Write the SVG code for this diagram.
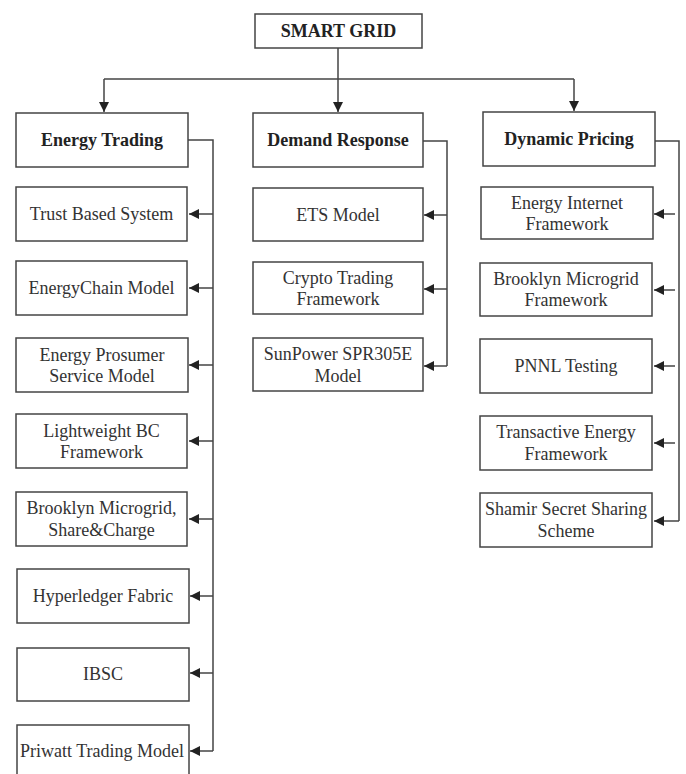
<svg xmlns="http://www.w3.org/2000/svg" width="686" height="774" viewBox="0 0 686 774">
  <style>
    .box { fill: #ffffff; stroke: #444444; stroke-width: 1.5; }
    .lbl { font-family: "Liberation Serif", "Times New Roman", serif; font-size: 18px; fill: #333333; text-anchor: middle; }
    .hdr { font-family: "Liberation Serif", "Times New Roman", serif; font-size: 18px; font-weight: bold; fill: #222222; text-anchor: middle; }
    .wire { fill: none; stroke: #444444; stroke-width: 1.5; }
  </style>
  <defs>
    <marker id="arrow" markerUnits="userSpaceOnUse" markerWidth="10" markerHeight="10" refX="10" refY="5" orient="auto">
      <path d="M0,0 L10,5 L0,10 Z" fill="#222222"/>
    </marker>
  </defs>
  <rect width="686" height="774" fill="#ffffff"/>

  <!-- connectors -->
  <g id="connectors">
    <!-- root to categories -->
    <path class="wire" d="M338,48 V79"/>
    <path class="wire" d="M104,79 H574"/>
    <path class="wire" d="M104,79 V112" marker-end="url(#arrow)"/>
    <path class="wire" d="M338,79 V112" marker-end="url(#arrow)"/>
    <path class="wire" d="M574,79 V111" marker-end="url(#arrow)"/>

    <!-- Energy Trading bus -->
    <path class="wire" d="M188,140 H213 V751"/>
    <path class="wire" d="M213,214 H189" marker-end="url(#arrow)"/>
    <path class="wire" d="M213,288 H189" marker-end="url(#arrow)"/>
    <path class="wire" d="M213,365 H189" marker-end="url(#arrow)"/>
    <path class="wire" d="M213,441 H189" marker-end="url(#arrow)"/>
    <path class="wire" d="M213,519 H189" marker-end="url(#arrow)"/>
    <path class="wire" d="M213,596 H190" marker-end="url(#arrow)"/>
    <path class="wire" d="M213,673 H190" marker-end="url(#arrow)"/>
    <path class="wire" d="M213,751 H190" marker-end="url(#arrow)"/>

    <!-- Demand Response bus -->
    <path class="wire" d="M423,141 H447 V366"/>
    <path class="wire" d="M447,215 H424" marker-end="url(#arrow)"/>
    <path class="wire" d="M447,289 H424" marker-end="url(#arrow)"/>
    <path class="wire" d="M447,366 H424" marker-end="url(#arrow)"/>

    <!-- Dynamic Pricing bus -->
    <path class="wire" d="M655,141 H679 V521"/>
    <path class="wire" d="M675,214 H654" marker-end="url(#arrow)"/>
    <path class="wire" d="M675,290 H654" marker-end="url(#arrow)"/>
    <path class="wire" d="M675,366 H654" marker-end="url(#arrow)"/>
    <path class="wire" d="M675,443 H654" marker-end="url(#arrow)"/>
    <path class="wire" d="M679,521 H654" marker-end="url(#arrow)"/>
  </g>

  <!-- root -->
  <g id="smart-grid">
    <rect class="box" x="255" y="14" width="167" height="34"/>
    <text class="hdr" x="338.5" y="37">SMART GRID</text>
  </g>

  <!-- category headers -->
  <g id="energy-trading">
    <rect class="box" x="16" y="113" width="172" height="54"/>
    <text class="hdr" x="102" y="146">Energy Trading</text>
  </g>
  <g id="demand-response">
    <rect class="box" x="253" y="113" width="170" height="54"/>
    <text class="hdr" x="338" y="146">Demand Response</text>
  </g>
  <g id="dynamic-pricing">
    <rect class="box" x="483" y="112" width="172" height="54"/>
    <text class="hdr" x="569" y="145">Dynamic Pricing</text>
  </g>

  <!-- Energy Trading items -->
  <g id="trust-based-system">
    <rect class="box" x="16" y="187" width="171" height="54"/>
    <text class="lbl" x="101.5" y="220">Trust Based System</text>
  </g>
  <g id="energychain-model">
    <rect class="box" x="16" y="261" width="171" height="54"/>
    <text class="lbl" x="101.5" y="294">EnergyChain Model</text>
  </g>
  <g id="energy-prosumer">
    <rect class="box" x="16" y="338" width="172" height="54"/>
    <text class="lbl" x="102" y="361">Energy Prosumer</text>
    <text class="lbl" x="102" y="382">Service Model</text>
  </g>
  <g id="lightweight-bc">
    <rect class="box" x="16" y="414" width="171" height="54"/>
    <text class="lbl" x="101.5" y="437">Lightweight BC</text>
    <text class="lbl" x="101.5" y="458">Framework</text>
  </g>
  <g id="brooklyn-share-charge">
    <rect class="box" x="16" y="492" width="171" height="54"/>
    <text class="lbl" x="101.5" y="514">Brooklyn Microgrid,</text>
    <text class="lbl" x="101.5" y="536">Share&amp;Charge</text>
  </g>
  <g id="hyperledger-fabric">
    <rect class="box" x="17" y="569" width="172" height="54"/>
    <text class="lbl" x="103" y="602">Hyperledger Fabric</text>
  </g>
  <g id="ibsc">
    <rect class="box" x="17" y="648" width="172" height="53"/>
    <text class="lbl" x="103" y="680">IBSC</text>
  </g>
  <g id="priwatt-trading-model">
    <rect class="box" x="17" y="725" width="172" height="54"/>
    <text class="lbl" x="102" y="757">Priwatt Trading Model</text>
  </g>

  <!-- Demand Response items -->
  <g id="ets-model">
    <rect class="box" x="253" y="188" width="170" height="53"/>
    <text class="lbl" x="338" y="221">ETS Model</text>
  </g>
  <g id="crypto-trading">
    <rect class="box" x="253" y="262" width="170" height="52"/>
    <text class="lbl" x="338" y="284">Crypto Trading</text>
    <text class="lbl" x="338" y="305">Framework</text>
  </g>
  <g id="sunpower-spr305e">
    <rect class="box" x="253" y="338" width="170" height="53"/>
    <text class="lbl" x="338" y="360">SunPower SPR305E</text>
    <text class="lbl" x="338" y="382">Model</text>
  </g>

  <!-- Dynamic Pricing items -->
  <g id="energy-internet">
    <rect class="box" x="481" y="187" width="172" height="52"/>
    <text class="lbl" x="567" y="209">Energy Internet</text>
    <text class="lbl" x="567" y="230">Framework</text>
  </g>
  <g id="brooklyn-framework">
    <rect class="box" x="480" y="263" width="172" height="53"/>
    <text class="lbl" x="566" y="285">Brooklyn Microgrid</text>
    <text class="lbl" x="566" y="306">Framework</text>
  </g>
  <g id="pnnl-testing">
    <rect class="box" x="480" y="339" width="172" height="54"/>
    <text class="lbl" x="566" y="372">PNNL Testing</text>
  </g>
  <g id="transactive-energy">
    <rect class="box" x="480" y="416" width="172" height="54"/>
    <text class="lbl" x="566" y="438">Transactive Energy</text>
    <text class="lbl" x="566" y="460">Framework</text>
  </g>
  <g id="shamir-secret-sharing">
    <rect class="box" x="480" y="493" width="172" height="54"/>
    <text class="lbl" x="566" y="515">Shamir Secret Sharing</text>
    <text class="lbl" x="566" y="537">Scheme</text>
  </g>
</svg>
